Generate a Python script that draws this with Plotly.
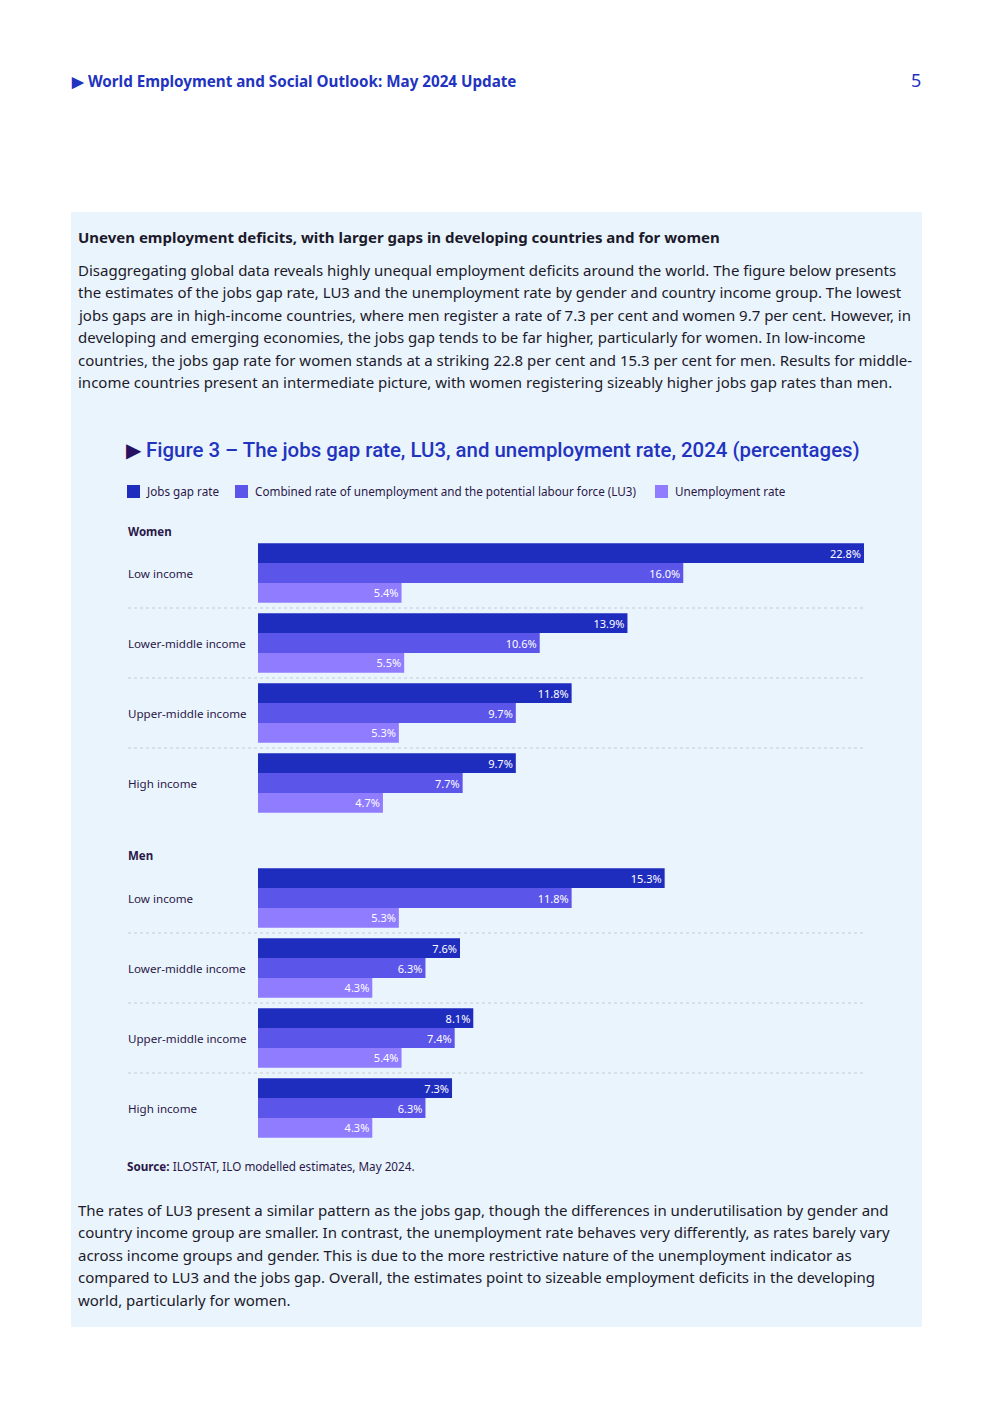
import plotly.graph_objects as go

# ---------------- data ----------------
categories = ["Low income", "Lower-middle income", "Upper-middle income", "High income"]
series_names = ["Jobs gap rate",
                "Combined rate of unemployment and the potential labour force (LU3)",
                "Unemployment rate"]
women_jobs_gap = [22.8, 13.9, 11.8, 9.7]
women_lu3 = [16.0, 10.6, 9.7, 7.7]
women_unemp = [5.4, 5.5, 5.3, 4.7]
men_jobs_gap = [15.3, 7.6, 8.1, 7.3]
men_lu3 = [11.8, 6.3, 7.4, 6.3]
men_unemp = [5.3, 4.3, 5.4, 4.3]

para1 = [
    "Disaggregating global data reveals highly unequal employment deficits around the world. The figure below presents",
    "the estimates of the jobs gap rate, LU3 and the unemployment rate by gender and country income group. The lowest",
    "jobs gaps are in high-income countries, where men register a rate of 7.3 per cent and women 9.7 per cent. However, in",
    "developing and emerging economies, the jobs gap tends to be far higher, particularly for women. In low-income",
    "countries, the jobs gap rate for women stands at a striking 22.8 per cent and 15.3 per cent for men. Results for middle-",
    "income countries present an intermediate picture, with women registering sizeably higher jobs gap rates than men.",
]
para2 = [
    "The rates of LU3 present a similar pattern as the jobs gap, though the differences in underutilisation by gender and",
    "country income group are smaller. In contrast, the unemployment rate behaves very differently, as rates barely vary",
    "across income groups and gender. This is due to the more restrictive nature of the unemployment indicator as",
    "compared to LU3 and the jobs gap. Overall, the estimates point to sizeable employment deficits in the developing",
    "world, particularly for women.",
]

# ---------------- styling ----------------
W, H = 992, 1403
COLORS = ["#1f2dbf", "#5c55e9", "#8f7cff"]
BLUE = "#2233c0"
DARK = "#2a1848"
TEXT = "#1c1a2a"
PANEL = "#eaf4fd"
FONT = "Noto Sans"


def px(x):
    return x / W


def py(y):
    return 1 - y / H


fig = go.Figure()

groups = [
    ("y", "x", [women_jobs_gap, women_lu3, women_unemp]),
    ("y2", "x2", [men_jobs_gap, men_lu3, men_unemp]),
]
for yref, xref, vals in groups:
    for name, v, c in zip(series_names, vals, COLORS):
        fig.add_trace(go.Bar(
            x=v, y=categories, orientation="h", name=name,
            marker=dict(color=c, line=dict(width=0)),
            text=[f"{a:.1f}%" for a in v], textposition="inside",
            insidetextanchor="end",
            textfont=dict(color="white", size=11, family=FONT),
            xaxis=xref, yaxis=yref, showlegend=False,
            hoverinfo="skip", cliponaxis=False,
        ))

ax_common = dict(range=[0, 22.8], showgrid=False, zeroline=False,
                 showticklabels=False, showline=False, ticks="")
ycommon = dict(type="category", range=[3.5, -0.5], showgrid=False,
               zeroline=False, showticklabels=False, showline=False, ticks="")

fig.update_layout(
    width=W, height=H,
    margin=dict(l=0, r=0, t=0, b=0),
    paper_bgcolor="white", plot_bgcolor="rgba(0,0,0,0)",
    barmode="group", bargap=0.15, bargroupgap=0,
    uniformtext=dict(minsize=11, mode="show"),
    xaxis=dict(domain=[px(258), px(864)], anchor="y", **ax_common),
    yaxis=dict(domain=[py(818), py(538)], anchor="x", **ycommon),
    xaxis2=dict(domain=[px(258), px(864)], anchor="y2", **ax_common),
    yaxis2=dict(domain=[py(1143), py(863)], anchor="x2", **ycommon),
    font=dict(family=FONT, color=TEXT),
)

shapes = []
# panel background
shapes.append(dict(type="rect", xref="paper", yref="paper",
                   x0=px(71), x1=px(922), y0=py(1327), y1=py(212),
                   fillcolor=PANEL, line=dict(width=0), layer="below"))
# dotted separators
for yref in ["y", "y2"]:
    for k in range(len(categories) - 1):
        shapes.append(dict(type="line", xref="paper", yref=yref,
                           x0=px(128), x1=px(864), y0=k + 0.5, y1=k + 0.5,
                           line=dict(color="#c5cad6", width=1, dash="dot"),
                           layer="below"))
# legend swatches
legend_x = [127, 235, 655]
for lx, c in zip(legend_x, COLORS):
    shapes.append(dict(type="rect", xref="paper", yref="paper",
                       x0=px(lx), x1=px(lx + 13), y0=py(498), y1=py(485),
                       fillcolor=c, line=dict(width=0)))
fig.update_layout(shapes=shapes)

ann = []
DX = -2  # compensate annotation padding


def add_text(x, y, text, size, color=TEXT, weight=None, family=FONT, xanchor="left"):
    f = dict(size=size, color=color, family=family)
    if weight:
        f["weight"] = weight
    ann.append(dict(xref="paper", yref="paper", x=px(x + (DX if xanchor == "left" else 2)),
                    y=py(y), text=text,
                    showarrow=False, xanchor=xanchor, yanchor="middle", font=f))


# header
add_text(71, 81, "▶ World Employment and Social Outlook: May 2024 Update", 15.2, BLUE, weight=700)
add_text(921, 80, "5", 18, BLUE, xanchor="right")

# box heading and paragraphs
add_text(78, 237, "Uneven employment deficits, with larger gaps in developing countries and for women",
         15, TEXT, weight=700)
for i, line in enumerate(para1):
    add_text(78, 270 + i * 22.4, line, 15, TEXT)
for i, line in enumerate(para2):
    add_text(78, 1210 + i * 22.4, line, 15, TEXT)

# figure title
add_text(126, 450, '<span style="color:#2a1060">▶</span> Figure 3 – The jobs gap rate, LU3, and unemployment rate, 2024 (percentages)',
         20.4, BLUE, weight=500, family="Roboto")

# legend labels
legend_tx = [146, 255, 675]
for lx, name in zip(legend_tx, series_names):
    add_text(lx, 491, name, 11.7, DARK)

# group headings
add_text(128, 531, "Women", 11.5, DARK, weight=700)
add_text(128, 856, "Men", 11.5, DARK, weight=700)

# category labels
for yref in ["y", "y2"]:
    for cat in categories:
        ann.append(dict(xref="paper", yref=yref, x=px(128 + DX), y=cat, text=cat,
                        showarrow=False, xanchor="left", yanchor="middle",
                        font=dict(size=11.6, color=DARK, family=FONT)))

# source
add_text(127, 1166, "<b>Source:</b> ILOSTAT, ILO modelled estimates, May 2024.", 11.7, DARK)

fig.update_layout(annotations=ann)

fig.write_html("out.html", config={"displayModeBar": False},
               post_script="document.body.style.margin='0';")
